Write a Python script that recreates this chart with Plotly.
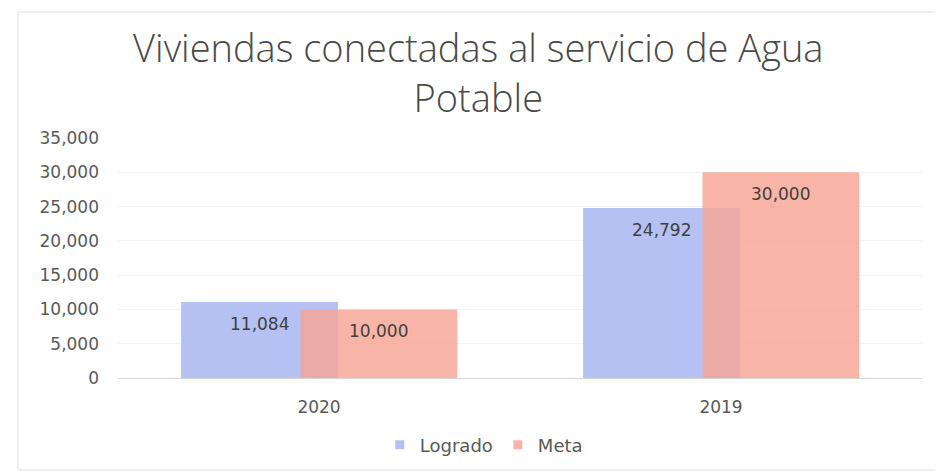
import plotly.graph_objects as go

categories = ["2020", "2019"]
logrado = [11084, 24792]
meta = [10000, 30000]
series_names = ["Logrado", "Meta"]
y_ticks = [0, 5000, 10000, 15000, 20000, 25000, 30000, 35000]
title_text = "Viviendas conectadas al servicio de Agua<br>Potable"

COLORS = ["#b5c1f2", "rgba(246,165,148,0.82)"]
TITLE_FONT = "Open Sans"
FONT = "DejaVu Sans"
BAR_W = 0.39
OFFSETS = [-0.343, -0.046]

fig = go.Figure()
for vals, name, color, off in [(logrado, series_names[0], COLORS[0], OFFSETS[0]),
                               (meta, series_names[1], COLORS[1], OFFSETS[1])]:
    fig.add_trace(go.Bar(
        x=categories, y=vals, name=name, showlegend=False,
        marker=dict(color=color, line=dict(width=0)),
        width=BAR_W, offset=off,
    ))
    # legend entry with small square swatch
    fig.add_trace(go.Scatter(
        x=[categories[0]], y=[None], mode="markers", name=name,
        marker=dict(symbol="square", size=9, color=color),
    ))
    # data labels just inside the top of each bar (category index + bar centre offset)
    for i, v in enumerate(vals):
        fig.add_annotation(
            x=i + off + BAR_W / 2, y=v, xref="x", yref="y", text=f"{v:,}",
            showarrow=False, yshift=-22,
            yanchor="middle", xanchor="center",
            font=dict(family=FONT, size=17, color="#404040"),
        )

fig.update_layout(
    width=935, height=464,
    autosize=False,
    barmode="overlay",
    paper_bgcolor="white", plot_bgcolor="white",
    margin=dict(l=110, r=21, t=130, b=94, autoexpand=False),
    title=dict(text=title_text, x=0.503, xref="container", xanchor="center",
               y=0.883, yref="container", yanchor="top",
               font=dict(family=TITLE_FONT, size=38, color="#4a4a4a", weight=300)),
    font=dict(family=FONT, color="#595959"),
    showlegend=True,
    legend=dict(orientation="h", x=0.455, xanchor="center",
                y=-0.279, yanchor="middle", itemwidth=30,
                font=dict(family=FONT, size=18, color="#595959")),
)
fig.update_xaxes(type="category", range=[-0.5, 1.5], showgrid=False, showline=True,
                 linecolor="#d5d5d5", linewidth=1, ticks="",
                 ticklabelstandoff=14,
                 tickfont=dict(family=FONT, size=17, color="#595959"))
fig.update_yaxes(range=[0, 35000], tickvals=y_ticks, tickformat=",",
                 showgrid=True, gridcolor="#f3f3f3", zeroline=False,
                 ticks="", ticklabelstandoff=18,
                 tickfont=dict(family=FONT, size=17, color="#595959"))
fig.add_shape(type="rect", xref="paper", yref="paper",
              x0=-0.1244, x1=1.0224, y0=-0.383, y1=1.525,
              line=dict(color="#e0e0e0", width=1), layer="below")
fig.write_html("out.html")
